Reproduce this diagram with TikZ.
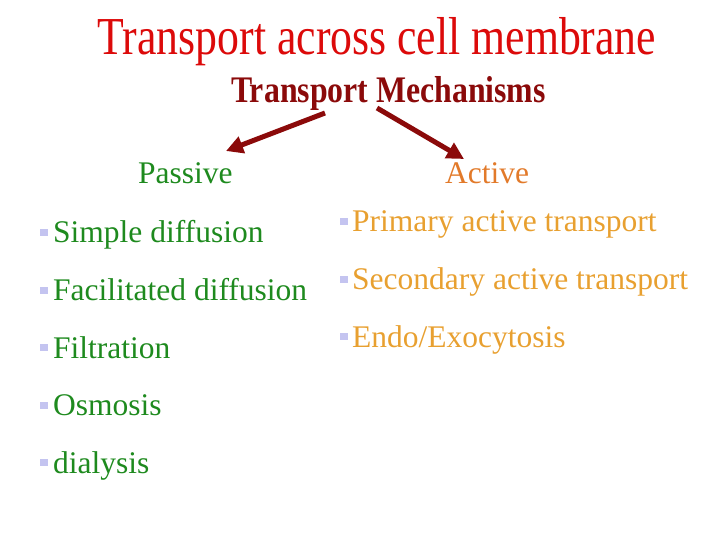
\documentclass[tikz,border=0pt]{standalone}
\usepackage{fontspec}
\setmainfont{Liberation Serif}
\usetikzlibrary{arrows.meta}
\definecolor{titlered}{HTML}{DC0A0A}
\definecolor{darkred}{HTML}{8B0A0A}
\definecolor{passgreen}{HTML}{1E8A1E}
\definecolor{actorange}{HTML}{E27A2A}
\definecolor{itemgold}{HTML}{E8A030}
\definecolor{bulletblue}{HTML}{C4C4F0}
\tikzset{
  txt/.style={inner sep=0pt, anchor=base west},
  item/.style={txt, font=\fontsize{31.5}{31.5}\selectfont},
  passitem/.style={item, text=passgreen},
  actitem/.style={item, text=itemgold},
  bul/.style={fill=bulletblue, draw=none},
  bigarrow/.style={draw=darkred, line width=5pt, -{Triangle[length=17pt,width=17pt]}},
}
\begin{document}
\begin{tikzpicture}[x=1pt,y=-1pt]
\useasboundingbox (0,0) rectangle (720,540);
\node[txt, anchor=base, text=titlered, font=\fontsize{43.75}{43.75}\selectfont] (title) at (377,55) {\scalebox{1}[1.22]{Transport across cell membrane}};
\node[txt, anchor=base, text=darkred, font=\fontsize{31.8}{31.8}\selectfont\bfseries] (mech) at (388.5,103) {\scalebox{1}[1.18]{Transport Mechanisms}};
\node[txt, text=passgreen, font=\fontsize{31.5}{31.5}\selectfont] (passive) at (138,184) {Passive};
\node[txt, text=actorange, font=\fontsize{31.5}{31.5}\selectfont] (active) at (445,184) {Active};
\coordinate (lt) at (325,113);
\coordinate (lh) at (226,151);
\coordinate (rt) at (377,108);
\coordinate (rh) at (464,159);
\draw[bigarrow] (lt) -- (lh);
\draw[bigarrow] (rt) -- (rh);
% left column
\foreach \y/\t [count=\i] in {243/{Simple diffusion}, 300.5/{Facilitated diffusion}, 358/{Filtration}, 415.5/{Osmosis}, 473/{dialysis}}{
  \fill[bul] (40,\y-14) rectangle (48,\y-7);
  \node[passitem] (p\i) at (53,\y) {\t};
}
% right column
\foreach \y/\t [count=\i] in {232/{Primary active transport}, 289.5/{Secondary active transport}, 347/{Endo/Exocytosis}}{
  \fill[bul] (340,\y-14) rectangle (348,\y-7);
  \node[actitem] (a\i) at (352,\y) {\t};
}
\end{tikzpicture}
\end{document}
